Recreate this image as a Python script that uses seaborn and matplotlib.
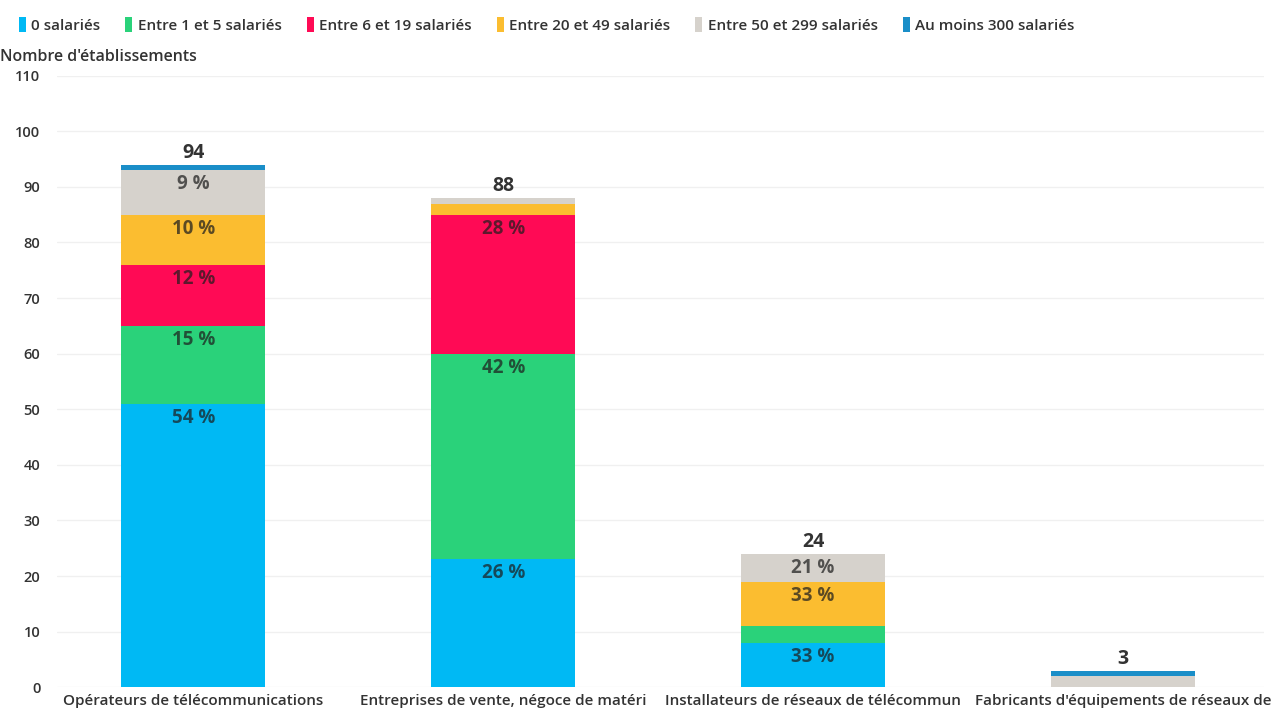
import matplotlib
matplotlib.use("Agg")
import matplotlib.pyplot as plt
from matplotlib.patches import Patch
import numpy as np
import pandas as pd
import seaborn as sns

# Categories (labels truncated as shown on the axis)
categories = [
    "Opérateurs de télécommunications",
    "Entreprises de vente, négoce de matéri",
    "Installateurs de réseaux de télécommun",
    "Fabricants d'équipements de réseaux de",
]

# Number of establishments per size class
sizes = [
    "0 salariés",
    "Entre 1 et 5 salariés",
    "Entre 6 et 19 salariés",
    "Entre 20 et 49 salariés",
    "Entre 50 et 299 salariés",
    "Au moins 300 salariés",
]
zero_sal = [51, 23, 8, 0]
sal_1_5 = [14, 37, 3, 0]
sal_6_19 = [11, 25, 0, 0]
sal_20_49 = [9, 2, 8, 0]
sal_50_299 = [8, 1, 5, 2]
sal_300 = [1, 0, 0, 1]

series = [zero_sal, sal_1_5, sal_6_19, sal_20_49, sal_50_299, sal_300]
colors = ["#00b9f4", "#2ad27a", "#ff0a55", "#fbbd30", "#d6d2cc", "#1a8ec8"]

sns.set_theme(style="white")
plt.rcParams["font.family"] = ["Open Sans", "DejaVu Sans"]

fig = plt.figure(figsize=(12.78, 7.10), dpi=100)
ax = fig.add_axes([57 / 1278, 0.032, (1264 - 57) / 1278, 0.8934 - 0.032])

values = np.array(series, dtype=float)
cum = values.cumsum(axis=0)
totals = cum[-1]

# Stacked bars: draw cumulative heights from the top layer downwards
for i in range(len(sizes) - 1, -1, -1):
    df = pd.DataFrame({"cat": categories, "val": cum[i]})
    sns.barplot(data=df, x="cat", y="val", color=colors[i], width=0.465,
                saturation=1, ax=ax, zorder=2, linewidth=0, edgecolor="none")

# Percentage labels inside segments
for i in range(len(sizes)):
    for j in range(len(categories)):
        v = values[i, j]
        if v >= 4:
            pct = int(round(v / totals[j] * 100))
            ax.annotate(f"{pct} %", xy=(j, cum[i, j]), xytext=(0, -14),
                        textcoords="offset pixels", ha="center", va="center",
                        fontsize=13.5, fontweight="bold", color="#1e1e1e",
                        alpha=0.72, zorder=4)

# Totals above bars
for j in range(len(categories)):
    ax.annotate(f"{int(totals[j])}", xy=(j, totals[j]), xytext=(0, 12),
                textcoords="offset pixels", ha="center", va="center",
                fontsize=14, fontweight="bold", color="#333333", zorder=4)

ax.set_ylim(0, 110)
ax.set_xlim(-0.44, 3.455)
ax.set_yticks(range(0, 111, 10))
ax.yaxis.grid(True, color="#f0f0f0", linewidth=1, zorder=0)
ax.set_axisbelow(True)
for s in ax.spines.values():
    s.set_visible(False)
ax.tick_params(axis="y", length=0, pad=12, labelsize=10.5, labelcolor="#333333")
ax.tick_params(axis="x", length=0, pad=4.5, labelsize=11, labelcolor="#333333")
for lbl in ax.get_yticklabels() + ax.get_xticklabels():
    lbl.set_fontweight("semibold")
ax.set_xlabel("")
ax.set_ylabel("")

fig.text(0.0, (710 - 57) / 710, "Nombre d'établissements", ha="left", va="center",
         fontsize=11.5, fontweight="semibold", color="#333333")

handles = [Patch(facecolor=c, edgecolor="none") for c in colors]
leg = fig.legend(handles, sizes, loc="center left", bbox_to_anchor=(0.004, (710 - 25) / 710),
                 ncol=6, frameon=False, handlelength=0.45, handleheight=1.1,
                 handletextpad=0.35, columnspacing=1.65,
                 prop={"weight": "semibold", "size": 11})
for t in leg.get_texts():
    t.set_color("#333333")

fig.savefig("out.png", dpi=100)
